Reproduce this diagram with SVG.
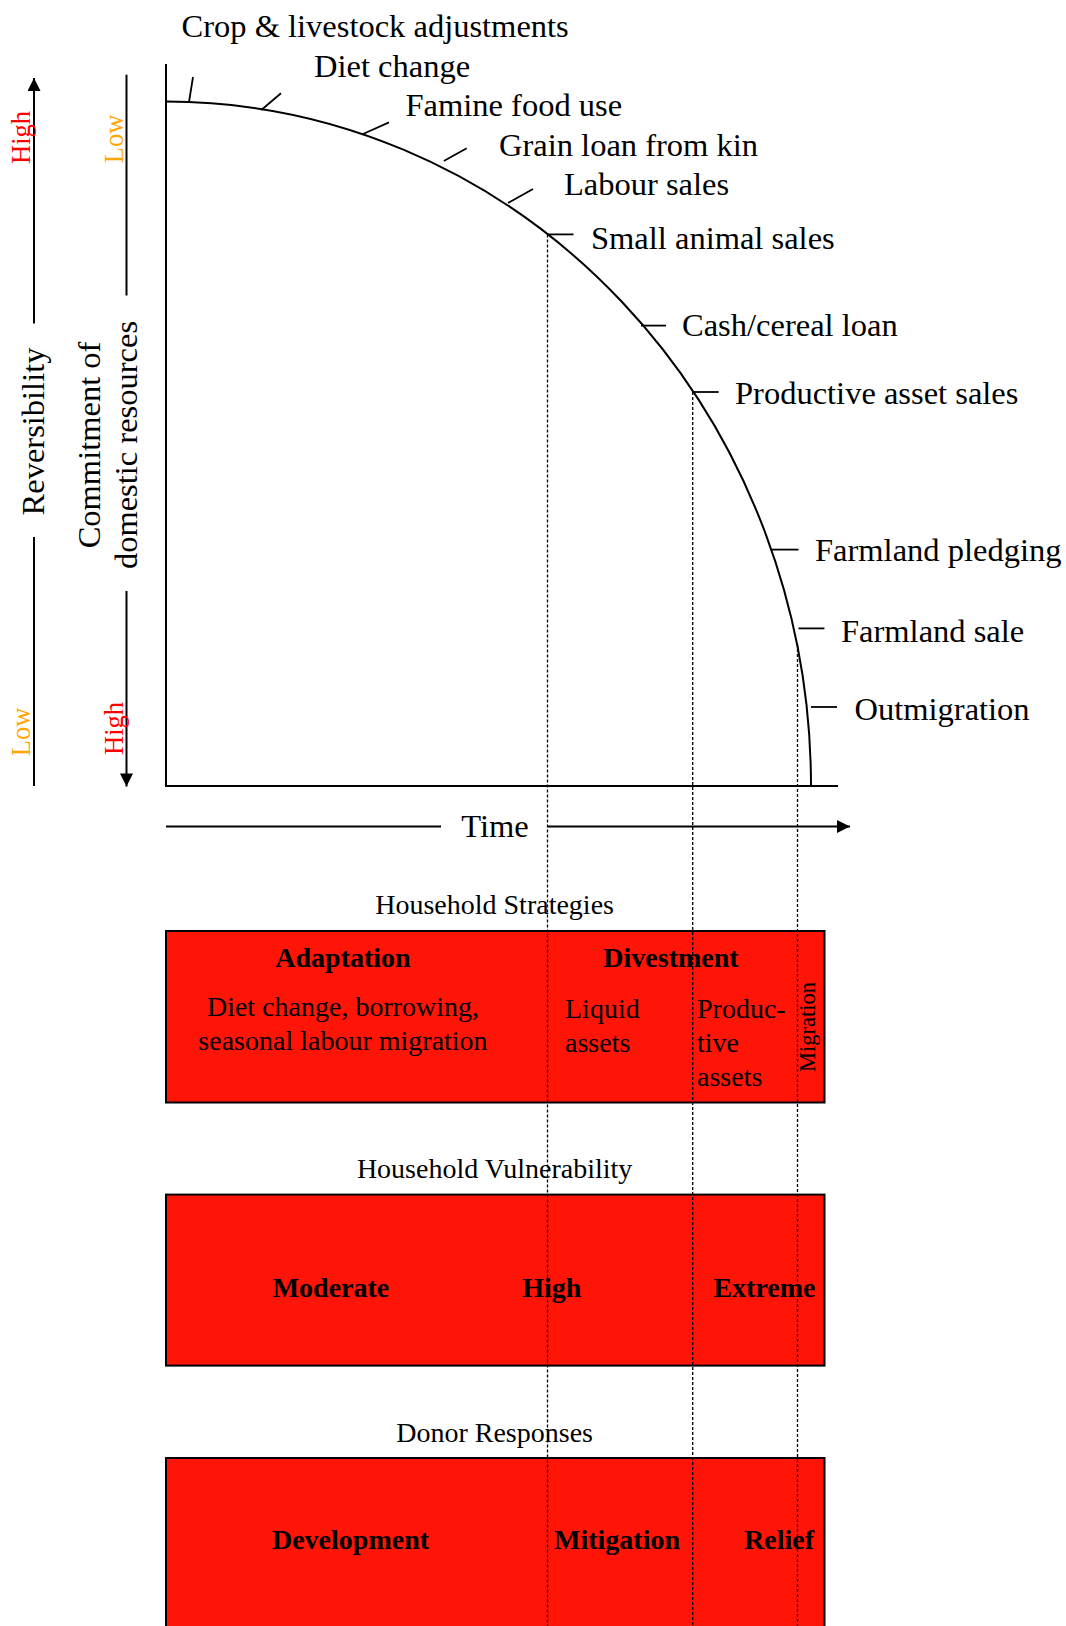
<svg xmlns="http://www.w3.org/2000/svg" width="1066" height="1626" viewBox="0 0 1066 1626">
<style>
text{font-family:"Liberation Serif","Times New Roman",serif;fill:#000}
.lbl{font-size:32.5px}
.ttl{font-size:28px;text-anchor:middle}
.bx{font-size:28px}
.b{font-weight:bold;text-anchor:middle}
.mid{text-anchor:middle}
.ln{stroke:#000;stroke-width:2;fill:none}
.tk{stroke:#000;stroke-width:1.8;fill:none}
.dot{stroke:#000;stroke-width:1.3;stroke-dasharray:3 2;fill:none}
.box{fill:#ff1408;stroke:#000;stroke-width:2}
.hi{fill:#ff0000;font-size:26.5px;text-anchor:middle}
.lo{fill:#ffa500;font-size:26.5px;text-anchor:middle}
</style>
<defs>
<marker id="ah" viewBox="0 0 10 10" refX="10" refY="5" markerUnits="userSpaceOnUse" markerWidth="14" markerHeight="13" orient="auto">
<path d="M0,0 L10,5 L0,10 z" fill="#000"/>
</marker>
</defs>

<g id="axes">
<line class="ln" x1="166" y1="64" x2="166" y2="786"/>
<line class="ln" x1="165" y1="786" x2="838" y2="786"/>
<path class="ln" d="M166,101.6 A645,684.4 0 0 1 811,786"/>
</g>

<g id="reversibility">
<line class="ln" x1="34" y1="323.5" x2="34" y2="78" marker-end="url(#ah)"/>
<line class="ln" x1="34" y1="537" x2="34" y2="786"/>
<text class="lbl mid" transform="translate(44,431.5) rotate(-90)">Reversibility</text>
<text class="hi" transform="translate(30,137.5) rotate(-90)">High</text>
<text class="lo" transform="translate(30,732) rotate(-90)">Low</text>
</g>

<g id="commitment">
<line class="ln" x1="126.5" y1="74.7" x2="126.5" y2="295.5"/>
<line class="ln" x1="126.5" y1="591" x2="126.5" y2="786.5" marker-end="url(#ah)"/>
<text class="lbl mid" transform="translate(99.5,445) rotate(-90)">Commitment of</text>
<text class="lbl mid" transform="translate(137,445) rotate(-90)">domestic resources</text>
<text class="lo" transform="translate(122.5,139) rotate(-90)">Low</text>
<text class="hi" transform="translate(122.5,728.5) rotate(-90)">High</text>
</g>

<g id="time">
<line class="ln" x1="166" y1="826.5" x2="441" y2="826.5"/>
<line class="ln" x1="547.5" y1="826.5" x2="850" y2="826.5" marker-end="url(#ah)"/>
<text class="lbl mid" x="495" y="837">Time</text>
</g>

<g id="strategy-labels">
<line class="tk" x1="189" y1="102" x2="193" y2="77"/>
<text class="lbl" x="181.5" y="36.5">Crop &amp; livestock adjustments</text>
<line class="tk" x1="261.3" y1="110" x2="281" y2="93.3"/>
<text class="lbl" x="314" y="76.5">Diet change</text>
<line class="tk" x1="363" y1="134" x2="389" y2="122.4"/>
<text class="lbl" x="405.5" y="116">Famine food use</text>
<line class="tk" x1="443.8" y1="161" x2="466.7" y2="148.3"/>
<text class="lbl" x="499" y="155.5">Grain loan from kin</text>
<line class="tk" x1="508" y1="203" x2="533" y2="189"/>
<text class="lbl" x="564" y="195">Labour sales</text>
<line class="tk" x1="547.5" y1="234.4" x2="573.5" y2="234.4"/>
<text class="lbl" x="591" y="249">Small animal sales</text>
<line class="tk" x1="641" y1="325.6" x2="666" y2="325.6"/>
<text class="lbl" x="682" y="336">Cash/cereal loan</text>
<line class="tk" x1="692.7" y1="392" x2="718.7" y2="392"/>
<text class="lbl" x="735" y="404">Productive asset sales</text>
<line class="tk" x1="772" y1="549.6" x2="798.5" y2="549.6"/>
<text class="lbl" x="815" y="560.5">Farmland pledging</text>
<line class="tk" x1="798.5" y1="628.4" x2="824.4" y2="628.4"/>
<text class="lbl" x="841" y="641.5">Farmland sale</text>
<line class="tk" x1="811" y1="707" x2="837" y2="707"/>
<text class="lbl" x="854.5" y="720">Outmigration</text>
</g>

<g id="household-strategies">
<text class="ttl" x="494.6" y="913.5">Household Strategies</text>
<rect class="box" x="166" y="931" width="658.5" height="171.5"/>
<text class="bx b" x="343" y="966.5">Adaptation</text>
<text class="bx b" x="671" y="966.5">Divestment</text>
<text class="bx mid" x="343" y="1016">Diet change, borrowing,</text>
<text class="bx mid" x="343" y="1050">seasonal labour migration</text>
<text class="bx" x="565" y="1018">Liquid</text>
<text class="bx" x="565" y="1051.5">assets</text>
<text class="bx" x="697" y="1018">Produc-</text>
<text class="bx" x="697" y="1051.5">tive</text>
<text class="bx" x="697" y="1085.5">assets</text>
<text class="mid" style="font-size:22.5px" transform="translate(815,1027) rotate(-90)">Migration</text>
</g>

<g id="household-vulnerability">
<text class="ttl" x="494.6" y="1178">Household Vulnerability</text>
<rect class="box" x="166" y="1194.6" width="658.5" height="171"/>
<text class="bx b" x="331" y="1297">Moderate</text>
<text class="bx b" x="551.7" y="1297">High</text>
<text class="bx b" x="764.5" y="1297">Extreme</text>
</g>

<g id="donor-responses">
<text class="ttl" x="494.6" y="1441.5">Donor Responses</text>
<rect class="box" x="166" y="1458" width="658.5" height="180"/>
<text class="bx b" x="350.5" y="1549">Development</text>
<text class="bx b" x="617" y="1549">Mitigation</text>
<text class="bx b" x="779" y="1549">Relief</text>
</g>

<g id="connectors">
<line class="dot" x1="547.5" y1="234.4" x2="547.5" y2="1626"/>
<line class="dot" x1="692.7" y1="392" x2="692.7" y2="1626"/>
<line class="dot" x1="797.5" y1="644" x2="797.5" y2="1626"/>
</g>
</svg>
